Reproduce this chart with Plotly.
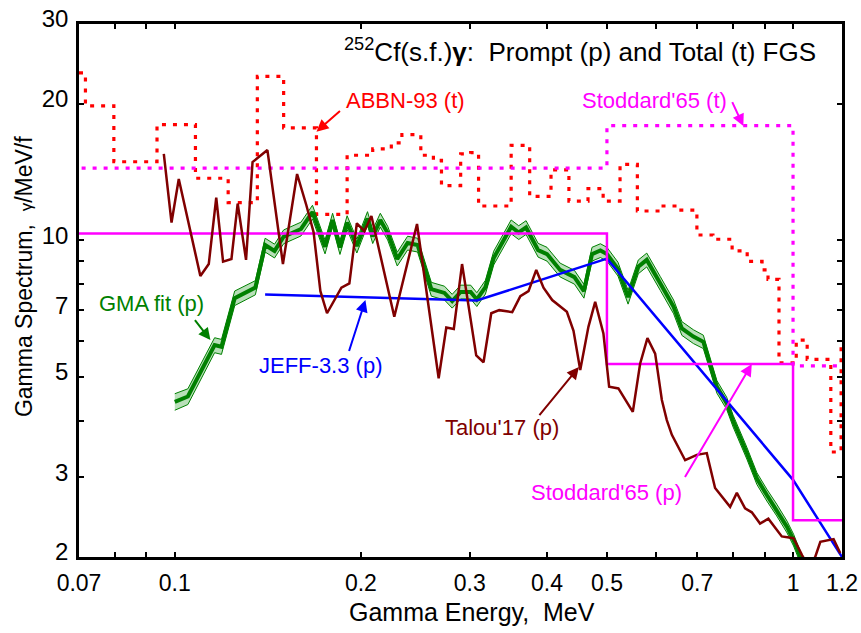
import numpy as np
import plotly.graph_objects as go

# ---------------- data (energy in MeV, spectrum in gamma/MeV/fission) ----------------
# ABBN-93 total FGS, group histogram: bin edges and group values
abbn_edges = [0.07, 0.0717, 0.0797, 0.0936, 0.108, 0.122, 0.136, 0.150, 0.1695, 0.190,
              0.209, 0.224, 0.233, 0.250, 0.262, 0.270, 0.290, 0.301, 0.310, 0.350,
              0.375, 0.406, 0.434, 0.466, 0.493, 0.525, 0.560, 0.610, 0.653, 0.699,
              0.742, 0.797, 0.843, 0.891, 0.911, 0.949, 1.012, 1.054, 1.151, 1.196, 1.25]
abbn_vals = [23.4, 19.8, 14.9, 18.0, 13.7, 12.1, 23.0, 17.7, 11.4, 15.4,
             15.9, 16.4, 17.1, 15.4, 15.0, 13.2, 15.5, 15.6, 11.9, 16.2,
             12.5, 14.3, 12.2, 13.0, 12.2, 14.7, 11.6, 11.9, 11.65, 10.27,
             10.05, 9.47, 8.98, 8.6, 8.2, 5.36, 6.02, 5.46, 3.41, 5.9]

# Stoddard'65 total and prompt spectra (histograms)
stod_t_edges = [0.06, 0.5, 1.0, 1.25]
stod_t_vals = [14.43, 17.9, 5.28]
stod_p_edges = [0.06, 0.5, 1.0, 1.25]
stod_p_vals = [10.35, 5.33, 2.41]

# JEFF-3.3 prompt spectrum
jeff_e = [0.14, 0.308, 0.5, 1.0, 1.2]
jeff_y = [7.59, 7.36, 9.11, 2.96, 2.0]

# Talou'17 prompt spectrum
talou_e = [0.096, 0.0988, 0.1015, 0.110, 0.1135, 0.1167, 0.1197, 0.1235, 0.1264, 0.1304,
           0.1336, 0.1412, 0.1496, 0.1577, 0.1632, 0.1677, 0.1720, 0.1763, 0.1860, 0.1916,
           0.197, 0.2026, 0.2080, 0.2265, 0.2465, 0.2672, 0.2749, 0.2827, 0.2915, 0.3073,
           0.3158, 0.3250, 0.3348, 0.3514, 0.3622, 0.3734, 0.3843, 0.3948, 0.4078, 0.4307,
           0.4415, 0.4527, 0.4667, 0.4786, 0.4935, 0.5041, 0.5218, 0.5506, 0.5658, 0.5814,
           0.5984, 0.6135, 0.6249, 0.6368, 0.6691, 0.6987, 0.7252, 0.7480, 0.7911, 0.8111,
           0.8364, 0.8576, 0.8843, 0.9121, 0.9589, 1.002, 1.034, 1.058, 1.086, 1.107,
           1.163, 1.192]
talou_y = [15.5, 10.94, 13.65, 8.34, 8.86, 12.42, 8.97, 9.09, 12.05, 9.05,
           14.88, 15.81, 8.86, 14.0, 11.96, 10.42, 7.72, 6.90, 7.86, 8.03,
           10.90, 10.48, 11.31, 6.78, 10.86, 4.96, 6.42, 6.37, 8.86, 5.57,
           5.38, 6.90, 7.01, 6.94, 7.53, 7.72, 8.60, 7.86, 7.38, 6.95,
           6.31, 5.17, 6.44, 7.31, 6.23, 4.75, 4.71, 4.18, 5.34, 6.08,
           5.62, 4.44, 4.01, 3.72, 3.27, 3.36, 3.39, 2.84, 2.58, 2.77,
           2.56, 2.51, 2.37, 2.43, 2.22, 2.20, 2.02, 1.91, 2.00, 2.16,
           2.19, 2.04]

# GMA fit of prompt spectrum with its relative uncertainty (%)
gma_e = [0.100, 0.105, 0.116, 0.119, 0.125, 0.135, 0.140, 0.145, 0.150, 0.160,
         0.167, 0.175, 0.180, 0.185, 0.190, 0.197, 0.205, 0.209, 0.215, 0.221,
         0.229, 0.238, 0.247, 0.260, 0.273, 0.281, 0.290, 0.301, 0.308, 0.318,
         0.328, 0.350, 0.360, 0.370, 0.387, 0.400, 0.420, 0.443, 0.459, 0.473,
         0.488, 0.500, 0.521, 0.541, 0.562, 0.580, 0.610, 0.641, 0.661, 0.690,
         0.716, 0.734, 0.753, 0.781, 0.800, 0.842, 0.874, 0.907, 0.941, 0.978,
         1.002, 1.035]
gma_y = [4.40, 4.52, 5.87, 5.82, 7.45, 7.86, 9.76, 9.47, 10.18, 10.59,
         11.54, 9.67, 11.08, 9.64, 10.94, 9.71, 11.17, 10.19, 11.08, 10.37,
         9.09, 9.86, 9.76, 7.80, 7.65, 7.34, 7.69, 7.69, 7.40, 7.88,
         9.14, 10.71, 10.40, 10.67, 9.51, 9.32, 8.60, 8.29, 7.72, 9.32,
         9.49, 9.32, 8.64, 7.49, 8.74, 9.05, 8.03, 7.13, 6.39, 6.13,
         5.97, 5.34, 4.75, 4.37, 3.99, 3.39, 2.98, 2.74, 2.54, 2.33,
         2.18, 1.95]
gma_err_pct = [4.2, 4.0, 3.8, 3.8, 3.7, 3.6, 3.5, 3.5, 3.5, 3.5,
               3.5, 3.5, 3.5, 3.5, 3.5, 3.5, 3.5, 3.5, 3.5, 3.5,
               3.5, 3.5, 3.5, 3.5, 3.5, 3.5, 3.5, 3.5, 3.5, 3.5,
               3.5, 3.5, 3.5, 3.5, 3.5, 3.5, 3.5, 3.5, 3.5, 3.5,
               3.5, 3.5, 3.5, 3.5, 3.5, 3.5, 3.5, 3.5, 3.5, 3.5,
               3.4, 3.3, 3.2, 3.1, 3.0, 3.0, 3.0, 3.0, 3.0, 3.0,
               3.0, 3.0]

x_ticks = [0.07, 0.1, 0.2, 0.3, 0.4, 0.5, 0.7, 1, 1.2]
x_ticktext = ["0.07", "0.1", "0.2", "0.3", "0.4", "0.5", "0.7", "1", "1.2"]
x_minor = [0.08, 0.09, 0.6, 0.8, 0.9]
y_ticks = [2, 3, 5, 7, 10, 20, 30]
y_ticktext = ["2", "3", "5", "7", "10", "20", "30"]
y_minor = [4, 6, 8, 9]

FONT = "Liberation Sans, Arial, sans-serif"
RED, MAG, GREEN, BLUE, DRED = "#FF0000", "#FF00FF", "#008000", "#0000FF", "#800000"


def step_xy(edges, vals):
    return edges, list(vals) + [vals[-1]]


fig = go.Figure()

# total spectra (dotted histograms)
x, y = step_xy(abbn_edges, abbn_vals)
fig.add_trace(go.Scatter(x=x, y=y, mode="lines", line_shape="hv",
                         line=dict(color=RED, width=3.2, dash="4px,7px")))
x, y = step_xy(stod_t_edges, stod_t_vals)
fig.add_trace(go.Scatter(x=x, y=y, mode="lines", line_shape="hv",
                         line=dict(color=MAG, width=3.2, dash="4px,7px")))

# GMA fit with uncertainty band
g = np.array(gma_y)
u = np.array(gma_err_pct) / 100.0
fig.add_trace(go.Scatter(x=gma_e, y=g * (1 - u), mode="lines",
                         line=dict(color=GREEN, width=1)))
fig.add_trace(go.Scatter(x=gma_e, y=g * (1 + u), mode="lines", fill="tonexty",
                         fillcolor="rgba(0,140,0,0.28)",
                         line=dict(color=GREEN, width=1)))
fig.add_trace(go.Scatter(x=gma_e, y=gma_y, mode="lines",
                         line=dict(color=GREEN, width=4)))

# JEFF-3.3
fig.add_trace(go.Scatter(x=jeff_e, y=jeff_y, mode="lines",
                         line=dict(color=BLUE, width=2.5)))

# Stoddard'65 prompt (solid histogram)
x, y = step_xy(stod_p_edges, stod_p_vals)
fig.add_trace(go.Scatter(x=x, y=y, mode="lines", line_shape="hv",
                         line=dict(color=MAG, width=2.5)))

# Talou'17
fig.add_trace(go.Scatter(x=talou_e, y=talou_y, mode="lines",
                         line=dict(color=DRED, width=2.5)))

axis_common = dict(type="log", showline=True, linecolor="black", linewidth=2.5,
                   mirror="ticks", ticks="inside", ticklen=5, tickwidth=2,
                   tickcolor="black", showgrid=False, zeroline=False, automargin=False)

fig.update_xaxes(range=[np.log10(0.07), np.log10(1.2)], tickvals=x_ticks,
                 ticktext=x_ticktext, tickfont=dict(size=23, color="black"),
                 ticklabelstandoff=4,
                 minor=dict(tickvals=x_minor, ticks="inside", ticklen=5,
                            tickwidth=2, tickcolor="black"),
                 **axis_common)
fig.update_yaxes(range=[np.log10(2), np.log10(30)], tickvals=y_ticks,
                 ticktext=y_ticktext, tickfont=dict(size=24, color="black"),
                 ticklabelstandoff=3, ticklabelshift=-5,
                 minor=dict(tickvals=y_minor, ticks="inside", ticklen=5,
                            tickwidth=2, tickcolor="black"),
                 **axis_common)

# longer ticks at the decades
shapes = []
for xv in [0.1, 1.0]:
    for anchor, sign in [(0, 1), (1, -1)]:
        shapes.append(dict(type="line", xref="x", yref="paper", ysizemode="pixel",
                           yanchor=anchor, x0=np.log10(xv), x1=np.log10(xv),
                           y0=0, y1=sign * 9, line=dict(color="black", width=2)))
for yv in [10.0]:
    for anchor, sign in [(0, 1), (1, -1)]:
        shapes.append(dict(type="line", yref="y", xref="paper", xsizemode="pixel",
                           xanchor=anchor, y0=np.log10(yv), y1=np.log10(yv),
                           x0=0, x1=sign * 9, line=dict(color="black", width=2)))

annotations = []


def label(text, x, y, color, size=22, xanchor="center", **kw):
    annotations.append(dict(text=text, x=x, y=y, xref="paper", yref="paper",
                            xanchor=xanchor, yanchor="middle", showarrow=False,
                            font=dict(family=FONT, size=size, color=color), **kw))


def arrow(e, v, ax, ay, color):
    annotations.append(dict(text=" ", x=np.log10(e), y=np.log10(v), xref="x", yref="y",
                            ax=ax, ay=ay, showarrow=True, arrowhead=2, arrowsize=1.2,
                            arrowwidth=2, arrowcolor=color, standoff=0,
                            font=dict(size=1)))


label("<sup>252</sup>Cf(s.f.)<b>γ</b>:\u00a0 Prompt (p) and Total (t) FGS",
      0.9685, 0.951, "black", size=26, xanchor="right")
label("ABBN-93 (t)", 0.4273, 0.8574, RED)
label("Stoddard'65 (t)", 0.7549, 0.8574, MAG)
label("GMA fit (p)", 0.0950, 0.4747, GREEN)
label("JEFF-3.3 (p)", 0.3169, 0.3602, BLUE)
label("Talou'17 (p)", 0.5544, 0.2439, DRED)
label("Stoddard'65 (p)", 0.6907, 0.1201, MAG)

arrow(0.1695, 17.36, 25, -22, RED)
arrow(0.831, 17.86, -12, -26, MAG)
arrow(0.1142, 6.02, -17, -22, GREEN)
arrow(0.2034, 7.38, -17, 53, BLUE)
arrow(0.4505, 5.25, -41, 50, DRED)
arrow(0.8576, 5.33, -68, 115, MAG)

# axis titles
label("Gamma Energy,\u00a0 MeV", 0.5156, -0.1032, "black", size=25)
label("Gamma Spectrum,\u00a0 <span style='font-size:17px'>γ</span>/MeV/f",
      -0.0721, 0.527, "black", size=23, textangle=-90)

fig.update_layout(width=861, height=633, margin=dict(l=79, r=19, t=24, b=76),
                  paper_bgcolor="white", plot_bgcolor="white", showlegend=False,
                  font=dict(family=FONT, color="black"),
                  shapes=shapes, annotations=annotations)

fig.write_html("out.html")
